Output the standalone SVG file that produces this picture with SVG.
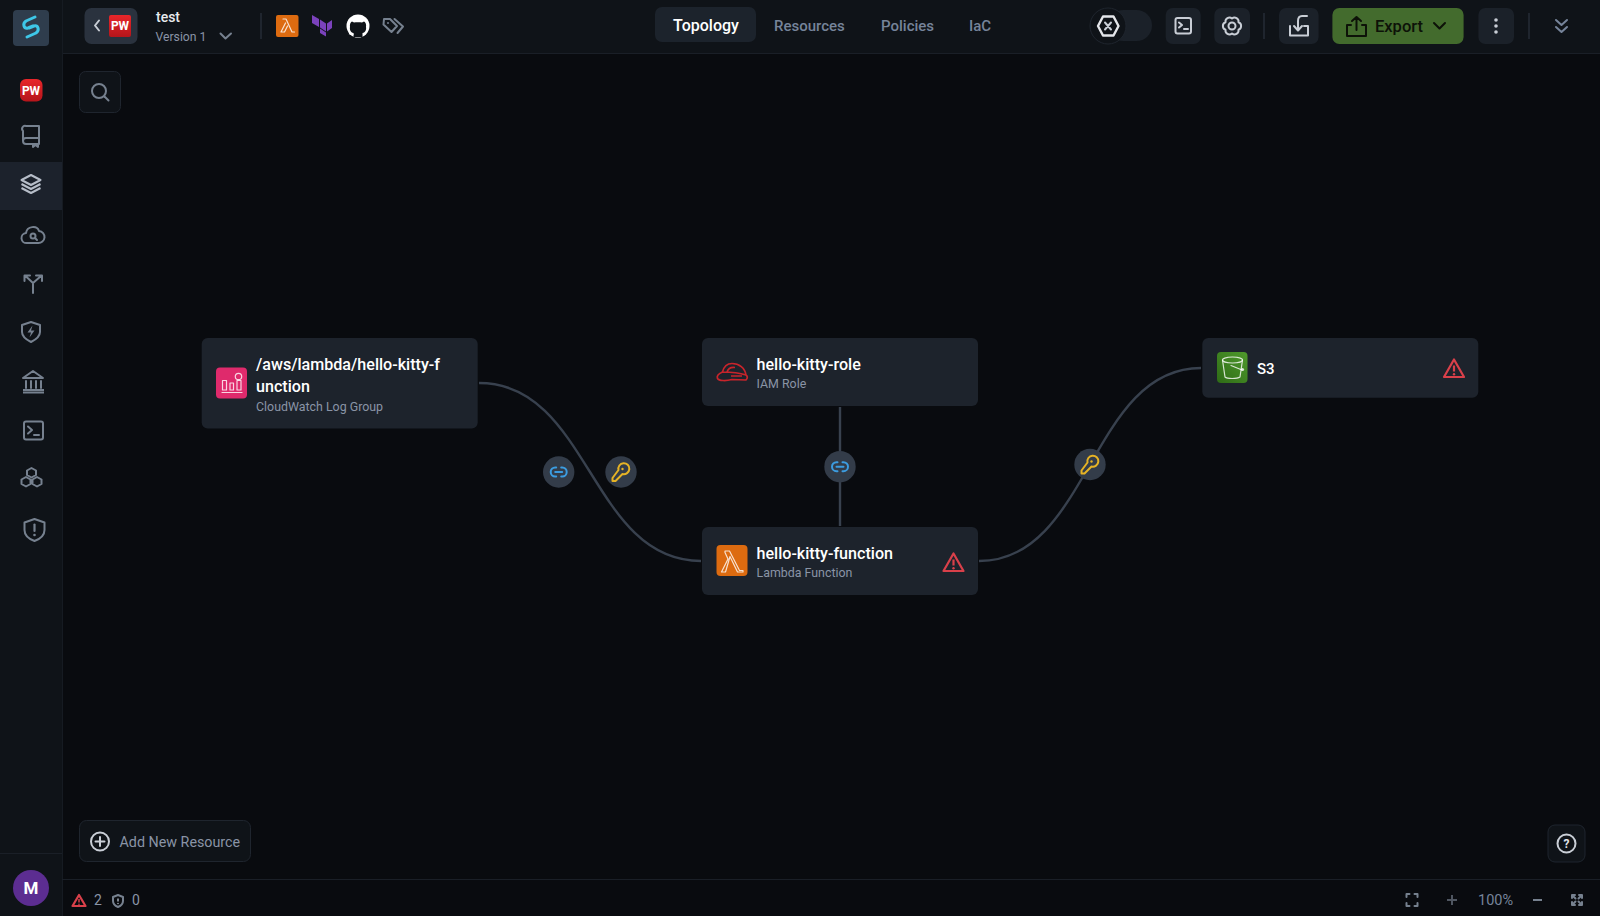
<svg xmlns="http://www.w3.org/2000/svg" width="1600" height="916" viewBox="0 0 1600 916">
<style>
text{font-family:Roboto,"Noto Sans","Liberation Sans",sans-serif}
.node{fill:#1d232c}
.nt{fill:#fff;font-size:16.100px;font-weight:500}
.ns{fill:#8a94a6;font-size:12.400px}
.edge{fill:none;stroke:#38414e;stroke-width:2.400}
.badge{fill:#333c49}
.tab{fill:#76849a;font-size:15px;font-weight:500}
.btn{fill:#1b2129}
.box{fill:#0f1318;stroke:#1f252e;stroke-width:1}
.ic{fill:none;stroke:#76818f;stroke-width:2;stroke-linecap:round;stroke-linejoin:round}
.ic2{fill:none;stroke:#c9ced6;stroke-width:2;stroke-linecap:round;stroke-linejoin:round}
.warn{fill:none;stroke:#d9404a;stroke-width:2.200;stroke-linejoin:round;stroke-linecap:round}
.sep{stroke:#1f252e;stroke-width:2}
.line{fill:none;stroke:#fff;stroke-opacity:.8;stroke-width:1.200;stroke-linejoin:round;stroke-linecap:round}
.pw{fill:#fff;font-size:12px;font-weight:700;text-anchor:middle}
.link{fill:none;stroke:#3c9ce0;stroke-width:2;stroke-linecap:round}
.key{fill:none;stroke:#e6b325;stroke-width:2;stroke-linecap:round;stroke-linejoin:round}
</style>
<defs>
<linearGradient id="red" x1="0" y1="0" x2="0" y2="1"><stop offset="0" stop-color="#e8262a"/><stop offset="1" stop-color="#b5151b"/></linearGradient>
<linearGradient id="grn" x1="0" y1="1" x2="1" y2="0"><stop offset="0" stop-color="#2e6b16"/><stop offset="1" stop-color="#4f9a2c"/></linearGradient>
<g id="warning"><path class="warn" d="M0 -9.500L10 8H-10Z"/><path d="M0 -3.500V2.500" stroke="#d9404a" stroke-width="2.200"/><circle cy="5.200" r="1.200" fill="#d9404a"/></g>
<g id="linkI"><path class="link" d="M-2.500 -4.500H-3.500a4.500 4.500 0 0 0 0 9H-2.500M2.500 -4.500H3.500a4.500 4.500 0 0 1 0 9H2.500M-3.500 0H3.500"/></g>
<g id="keyI"><path class="key" d="M-2.500 -2a5.500 5.500 0 1 1 4 4L-5.500 9H-8.500V6Z"/><circle cx="1.500" cy="-3" r="1.200" fill="#e6b325"/></g>
</defs>

<rect width="1600" height="916" fill="#090b0f"/>

<g id="topbar">
<rect x="62" width="1538" height="53" fill="#0f1318"/>
<path d="M62 53.500H1600" stroke="#1a1f27"/>
<rect x="84.500" y="8" width="53" height="36" rx="7" fill="#2a323e"/>
<path class="ic2" d="M99 20.500L95 25.500L99 30.500"/>
<rect x="109" y="15" width="22" height="22" rx="2" fill="url(#red)"/>
<text class="pw" x="120" y="30">PW</text>
<text x="156" y="22" fill="#e8eaee" font-size="14" font-weight="500">test</text>
<text x="155.500" y="41" fill="#8a94a6" font-size="12.200">Version 1</text>
<path class="ic" d="M220.500 33.500L225.500 38.500L231 33.500"/>
<path class="sep" d="M261 13V39"/>
<rect x="276" y="15" width="22.500" height="22" rx="2" fill="#dd6b10"/>
<path class="line" d="M283 19H286L292 32H294.500M285.500 23L281 32H284.500L287.500 26"/>
<path d="M312 15L319 19V27L312 23ZM320 19.500L326 23.500V31.500L320 27.500ZM320 28.500L326 32.500V36.500L320 33ZM327 23.500L332 20V28L327 31.500Z" fill="#7b42bc"/>
<circle cx="358" cy="26" r="11.500" fill="#fff"/>
<path d="M353.500 37V33C350.500 32.500 349.500 29.500 350 27C349.500 24.500 350.500 22 352 21.500L354 22.500C356 22 360 22 362 22.500L364 21.500C365.500 22 366.500 24.500 366 27C366.500 29.500 365.500 32.500 362.500 33V37H353.500Z" fill="#0f1318"/>
<path d="M349 33.500L353.500 34.500" stroke="#fff" stroke-width="1.500" fill="none"/>
<path class="ic" d="M384 19H390L397 26L391.500 32L383.500 24.500ZM394.500 19L403 26.500L397.500 33" stroke-width="1.800"/>
<circle cx="388" cy="23" r="1" fill="#76818f"/>
<rect x="655" y="7" width="101" height="35" rx="7" fill="#1c232c"/>
<text x="673" y="31" fill="#fff" font-size="16" font-weight="500">Topology</text>
<text class="tab" x="774" y="31">Resources</text>
<text class="tab" x="881" y="31">Policies</text>
<text class="tab" x="969" y="31">IaC</text>
<rect x="1108" y="10" width="44" height="31" rx="15.500" fill="#1b2129"/>
<circle cx="1108" cy="26" r="18" fill="#0f1318" stroke="#1f252e"/>
<path d="M1103 16.500H1113.500L1118.500 26L1113.500 35.500H1103L1098 26Z" fill="none" stroke="#e4e6ea" stroke-width="2.400" stroke-linejoin="round"/>
<path class="ic2" d="M1105 22.500L1111 29.500M1111 22.500L1105 29.500" stroke="#e4e6ea"/>
<rect class="btn" x="1165.700" y="8" width="35" height="36" rx="7"/>
<rect class="ic2" x="1175.500" y="18" width="15.500" height="15.500" rx="2"/>
<path class="ic2" d="M1179 22.500L1182 25L1179 27.500M1184 29H1188" stroke-width="1.500"/>
<rect class="btn" x="1214.300" y="8" width="35.700" height="36" rx="7"/>
<path class="ic2" d="M1238.500 29.750A4 4 0 0 1 1232 33.500A4 4 0 0 1 1225.500 29.750A4 4 0 0 1 1225.500 22.250A4 4 0 0 1 1232 18.500A4 4 0 0 1 1238.500 22.250A4 4 0 0 1 1238.500 29.750Z"/>
<circle class="ic2" cx="1232" cy="26" r="3.500"/>
<path class="sep" d="M1264 13V39"/>
<rect class="btn" x="1279" y="8" width="39.600" height="36" rx="7"/>
<path class="ic2" d="M1290 26V35.500H1308V26H1304M1307 16H1302C1299 16 1298 18 1298 21V30M1294 26L1298 30.500L1302 26"/>
<rect x="1332.400" y="8" width="131.200" height="36" rx="7" fill="#436b2d"/>
<path d="M1351 25H1347V36H1366V25H1362M1356.500 30V17M1352 21L1356.500 17L1361 21" fill="none" stroke="#0d1208" stroke-width="2" stroke-linecap="round" stroke-linejoin="round"/>
<text x="1375" y="32" fill="#0d1208" font-size="16.500" font-weight="500">Export</text>
<path d="M1434 23L1439.500 28.500L1445 23" fill="none" stroke="#0d1208" stroke-width="2" stroke-linecap="round" stroke-linejoin="round"/>
<rect class="btn" x="1478.400" y="8" width="35.600" height="36" rx="7"/>
<circle cx="1496" cy="20" r="1.800" fill="#c9ced6"/><circle cx="1496" cy="26" r="1.800" fill="#c9ced6"/><circle cx="1496" cy="32" r="1.800" fill="#c9ced6"/>
<path class="sep" d="M1529 13V39"/>
<path d="M1556 20L1561.500 25L1567 20M1556 27L1561.500 32L1567 27" fill="none" stroke="#76849a" stroke-width="2" stroke-linecap="round" stroke-linejoin="round"/>
</g>

<g id="sidebar">
<rect width="62" height="916" fill="#0f1318"/>
<path d="M62.500 0V916" stroke="#161b22"/>
<rect x="13" y="10" width="36" height="36" rx="4" fill="#2f3d4d"/>
<path d="M35 17L26 21C22 24 24 29 28 28L33 26M27 37L36 33C40 30 38 25 34 26L29 28" fill="none" stroke="#3ec7e8" stroke-width="3" stroke-linecap="round" stroke-linejoin="round"/>
<rect x="20" y="79" width="22.500" height="22.500" rx="6" fill="url(#red)"/>
<text class="pw" x="31" y="95">PW</text>
<path class="ic" d="M23 131a3 3 0 0 1 3 -5H39V144H26A3 3 0 0 1 23 141ZM23 141a3 3 0 0 1 3 -3H39M33 144V147L35.500 145L38 147V144"/>
<rect y="162" width="62" height="48" fill="#1c222c"/>
<path d="M31 175L40.500 180L31 185L21.500 180ZM21.500 184L31 189L40.500 184M21.500 188L31 193L40.500 188" fill="none" stroke="#b6bdc8" stroke-width="2" stroke-linejoin="round"/>
<path class="ic" d="M28 243H27A5 5 0 0 1 26 233C27 226 37 225 39 231A6 6 0 0 1 38 243Z"/>
<circle class="ic" cx="33" cy="236" r="2.500"/><path class="ic" d="M35 238L37 240" stroke-width="1.500"/>
<path class="ic" d="M33 293V283L25.500 276M24.500 281V275.500H30M33 283L41 276M36 275.500H42V281"/>
<path class="ic" d="M31 322L40 325V332C40 337 35 340 31 342C27 340 22 337 22 332V325Z"/>
<path d="M32.500 325.500L27.500 332.500H31L29.500 337.500L34.500 330.500H31Z" fill="#76818f"/>
<path class="ic" d="M33 371L43 378H23ZM26 381V388M31 381V388M36 381V388M41 381V388"/>
<path d="M23 390H44M23 392.500H44" stroke="#76818f" stroke-width="2"/>
<rect class="ic" x="24" y="421.500" width="19" height="18" rx="2"/>
<path class="ic" d="M28 426.500L32 430L28 433.500M34 435H39" stroke-width="1.500"/>
<path class="ic" d="M31.500 468L36 470.500V475L31.500 477.500L27 475V470.500ZM26 477L30.500 479.500V484L26 486.500L21.500 484V479.500ZM37 477L41.500 479.500V484L37 486.500L32.500 484V479.500Z" stroke-width="1.500"/>
<path class="ic" d="M34.500 519L44.500 522.500V530C44.500 535 40 539 34.500 541C29 539 24.500 535 24.500 530V522.500Z"/>
<path d="M34.500 524.500V531" stroke="#76818f" stroke-width="2.200" stroke-linecap="round"/><circle cx="34.500" cy="535" r="1.300" fill="#76818f"/>
<path d="M0 853.500H62" stroke="#1a1f27"/>
<circle cx="31" cy="888" r="18" fill="#5c2d91"/>
<text x="31" y="894" fill="#fff" font-size="17" font-weight="700" text-anchor="middle">M</text>
</g>

<g id="search">
<rect class="box" x="79.500" y="71.500" width="41" height="41" rx="6"/>
<circle class="ic" cx="99" cy="91" r="7" stroke="#a3acb8"/>
<path class="ic" d="M104.500 96.500L108.500 100.500" stroke="#a3acb8"/>
</g>

<g id="connectors">
<path class="edge" d="M479 383C590 383 590 561 701 561"/>
<path class="edge" d="M840 407V526"/>
<path class="edge" d="M979 561C1090 561 1090 368 1201 368"/>
<circle class="badge" cx="558.700" cy="472" r="15.700"/><use href="#linkI" x="558.700" y="472"/>
<circle class="badge" cx="621" cy="472" r="15.700"/><use href="#keyI" x="621" y="472"/>
<circle class="badge" cx="840" cy="466.700" r="15.700"/><use href="#linkI" x="840" y="466.700"/>
<circle class="badge" cx="1090" cy="464.500" r="15.700"/><use href="#keyI" x="1090" y="464.500"/>
</g>

<g id="node-loggroup">
<rect class="node" x="201.700" y="338" width="276" height="90.500" rx="6"/>
<rect x="216" y="367.500" width="31" height="31" rx="4" fill="#df2a6c"/>
<path class="line" d="M222 392.500H242M222.500 390V380.500H226.500V390ZM230 390V383H233.500V390ZM237 390V380.500H241V390Z"/>
<circle class="line" cx="238.500" cy="376.500" r="3.200"/>
<text class="nt" x="256" y="370">/aws/lambda/hello-kitty-f</text>
<text class="nt" x="256" y="392">unction</text>
<text class="ns" x="256" y="411">CloudWatch Log Group</text>
</g>

<g id="node-role">
<rect class="node" x="702" y="338" width="276" height="68" rx="6"/>
<path d="M717.500 378.500C719 381 726 381 732 379.500L746 380C748 378 747.500 376 746 375C745 368 739 363.500 732 363.500C727 363.500 724 366 722.500 372C719 373.500 716.500 376 717.500 378.500ZM722.500 372C730 372 740 373 746 375M727 372C728 369 731 367 735 367.500M731 376H742" fill="none" stroke="#c8242b" stroke-width="1.700" stroke-linejoin="round"/>
<text class="nt" x="756.500" y="370">hello-kitty-role</text>
<text class="ns" x="756.500" y="388">IAM Role</text>
</g>

<g id="node-lambda">
<rect class="node" x="702" y="527" width="276" height="68" rx="6"/>
<rect x="716.500" y="545" width="31" height="31" rx="4" fill="#dd6b10"/>
<path class="line" d="M725 551H729.500L739.500 570.500H743V572H737.500L730 556.500L725.500 572H721.500L728 559L725 552.500Z"/>
<text class="nt" x="756.500" y="559">hello-kitty-function</text>
<text class="ns" x="756.500" y="577">Lambda Function</text>
<use href="#warning" x="953.500" y="563"/>
</g>

<g id="node-s3">
<rect class="node" x="1202.300" y="338" width="276" height="59.700" rx="6"/>
<rect x="1217" y="352" width="30.500" height="31" rx="4" fill="url(#grn)"/>
<path class="line" d="M1222.500 360L1225 377C1227 379 1237 379 1240 377L1242.500 360"/>
<ellipse class="line" cx="1232.500" cy="360" rx="10" ry="3"/>
<path class="line" d="M1231 365.500L1242 370"/>
<circle cx="1242.500" cy="369.500" r="1.600" fill="#fff" fill-opacity=".8"/>
<text x="1257" y="374" fill="#fff" font-size="15" font-weight="500">S3</text>
<use href="#warning" x="1454" y="369"/>
</g>

<g id="add-resource">
<rect class="box" x="79.500" y="820.500" width="171" height="41" rx="7"/>
<circle class="ic2" cx="100" cy="841.500" r="9" stroke="#a9b1bd"/>
<path class="ic2" d="M100 837V846M95.500 841.500H104.500" stroke="#a9b1bd"/>
<text x="119.500" y="847" fill="#8a94a6" font-size="14.300">Add New Resource</text>
</g>

<g id="help">
<rect class="box" x="1548" y="825" width="37" height="37" rx="7"/>
<circle class="ic2" cx="1566.500" cy="843.500" r="9" stroke="#e0e3e8"/>
<text x="1566.500" y="848" fill="#e0e3e8" font-size="12" font-weight="700" text-anchor="middle">?</text>
</g>

<g id="statusbar">
<path d="M62 879.500H1600" stroke="#1a1f27"/>
<path class="warn" d="M79 895L85.500 906H72.500Z" stroke-width="1.500"/>
<path d="M79 899V902.500" stroke="#d9404a" stroke-width="1.500"/><circle cx="79" cy="904.300" r=".8" fill="#d9404a"/>
<text x="94" y="905" fill="#8a94a6" font-size="14">2</text>
<path class="ic" d="M118 895L123 897V901C123 904 120.500 906 118 907C115.500 906 113 904 113 901V897Z" stroke="#a3acb8" stroke-width="1.500"/>
<path d="M118 898.500V901.500" stroke="#a3acb8" stroke-width="1.500"/><circle cx="118" cy="903.500" r=".8" fill="#a3acb8"/>
<text x="132" y="905" fill="#8a94a6" font-size="14">0</text>
<path class="ic" d="M1406.500 897V894H1409.500M1414.500 894H1417.500V897M1417.500 903V906H1414.500M1409.500 906H1406.500V903" stroke="#b4bac3" stroke-width="1.800"/>
<path d="M1452 895V905M1447 900H1457" stroke="#4f5661" stroke-width="2"/>
<text x="1478" y="905" fill="#76849a" font-size="14.500">100%</text>
<path d="M1533 900H1542" stroke="#76818f" stroke-width="2"/>
<path class="ic" d="M1572 895L1575.500 898.500M1582 895L1578.500 898.500M1572 905L1575.500 901.500M1582 905L1578.500 901.500M1572 898V895H1575M1582 898V895H1579M1572 902V905H1575M1582 902V905H1579" stroke="#b4bac3" stroke-width="1.800"/>
</g>
</svg>
